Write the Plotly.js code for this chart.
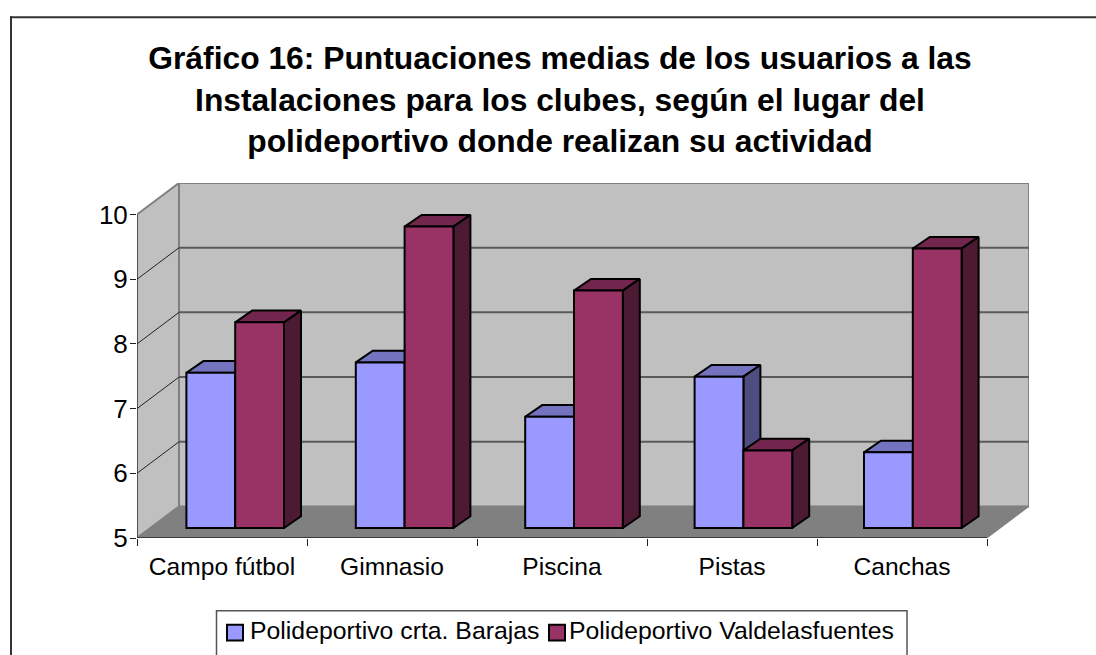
<!DOCTYPE html>
<html>
<head>
<meta charset="utf-8">
<script src="https://cdn.plot.ly/plotly-3.0.1.min.js"></script>
<style>html,body{margin:0;padding:0;background:#fff;overflow:hidden}#chart{width:1096px;height:655px}</style>
</head>
<body>
<div id="chart"></div>
<script>
const categories = ["Campo fútbol", "Gimnasio", "Piscina", "Pistas", "Canchas"];
const seriesNames = ["Polideportivo crta. Barajas", "Polideportivo Valdelasfuentes"];
const barajas = [7.4, 7.56, 6.72, 7.34, 6.17];
const valdelasfuentes = [8.18, 9.66, 8.67, 6.2, 9.32];
const yTicks = [5, 6, 7, 8, 9, 10];
const titleText = "Gráfico 16: Puntuaciones medias de los usuarios a las<br>Instalaciones para los clubes, según el lugar del<br>polideportivo donde realizan su actividad";

const colors = {
  front: ["#9999FF", "#993366"],
  top: ["#7373BF", "#73264D"],
  side: ["#4D4D80", "#4D1A33"]
};
const FONT = "Liberation Sans, Arial, sans-serif";

// Plot-area box in pixels
const L = 137, R = 1029, T = 183, B = 538.3;
const unitX = 170, unitY = 64.74;
// wall depth in axis units
const dX = 42 / unitX, dY = 31.6 / unitY;
// bar plane: step between groups and first group centre in pixels
const stepPx = 169.4, firstCentrePx = 235.2, barPx = 48.8;
const shiftY = 10 / unitY;
const barW = barPx / stepPx;
const barDX = 17 / unitX, barDY = 11.7 / unitY;
const n = categories.length, lo = yTicks[0], hi = yTicks[yTicks.length - 1];

const px = x => (x - L) / (R - L);
const py = y => (B - y) / (B - T);

function poly(x, y, fill, line, width) {
  return {type: "scatter", mode: "lines", x: x.concat(x[0]), y: y.concat(y[0]), fill: "toself",
    fillcolor: fill, line: {color: line, width: width}, showlegend: false, hoverinfo: "skip"};
}
function seg(x, y, color, width) {
  return {type: "scatter", mode: "lines", x, y, line: {color, width}, showlegend: false, hoverinfo: "skip"};
}

const traces = [];
// walls & floor
traces.push(poly([0, dX, dX, 0], [lo, lo + dY, hi + dY, hi], "#C0C0C0", "#808080", 2));
traces.push(poly([dX, n + dX, n + dX, dX], [lo + dY, lo + dY, hi + dY, hi + dY], "#C0C0C0", "#808080", 2));
traces.push(poly([0, n, n + dX, dX], [lo, lo, lo + dY, lo + dY], "#808080", "#808080", 1));
// gridlines
yTicks.slice(1, -1).forEach(v => {
  traces.push(seg([dX, n + dX], [v + dY, v + dY], "#5A5A5A", 2));
  traces.push(seg([0, dX], [v, v + dY], "#222222", 1));
});
// axis lines
traces.push(seg([0, 0], [lo, hi], "#222222", 1));
traces.push(seg([0, n], [lo, lo], "#222222", 1.5));

// top and side faces of each bar, on the wall axes
[barajas, valdelasfuentes].forEach((vals, s) => {
  vals.forEach((v, j) => {
    const x0 = (firstCentrePx + j * stepPx + (s - 1) * barPx - L) / unitX, x1 = x0 + barPx / unitX;
    const y1 = v + shiftY, y0 = lo + shiftY;
    traces.push(poly([x0, x1, x1 + barDX, x0 + barDX], [y1, y1, y1 + barDY, y1 + barDY], colors.top[s], "#000", 2));
    traces.push(poly([x1, x1 + barDX, x1 + barDX, x1], [y0, y0 + barDY, y1 + barDY, y1], colors.side[s], "#000", 2));
  });
});

// front faces on an overlaid pair of axes, shifted to the plane of the bars
[barajas, valdelasfuentes].forEach((vals, s) => {
  traces.push({type: "bar", name: seriesNames[s], x: categories, y: vals.map(v => v - lo), base: lo,
    xaxis: "x2", yaxis: "y2", marker: {color: colors.front[s], line: {color: "#000", width: 2}},
    showlegend: false, hovertemplate: "%{x}: %{customdata}<extra>" + seriesNames[s] + "</extra>", customdata: vals});
});

const xMaxWall = n + dX, yMaxWall = hi + dY;
const layout = {
  width: 1096, height: 655,
  margin: {l: L, r: 1096 - R, t: T, b: 655 - B, pad: 0, autoexpand: false},
  paper_bgcolor: "#fff", plot_bgcolor: "#fff",
  font: {family: FONT, color: "#000", size: 24},
  showlegend: false,
  barmode: "group", bargap: 1 - 2 * barW, bargroupgap: 0,
  title: {text: titleText, font: {family: FONT, size: 31.8, color: "#000", weight: "bold"},
    x: 560 / 1096, xanchor: "center", y: 0.894, yanchor: "top"},
  xaxis: {range: [0, xMaxWall], tickmode: "array", tickvals: categories.map((c, i) => i + 0.5), ticktext: categories,
    ticks: "", showgrid: false, zeroline: false, showline: false, tickfont: {size: 24.6, family: FONT},
    ticklabelstandoff: 11,
    minor: {tickmode: "array", tickvals: [0, 1, 2, 3, 4, 5], ticks: "outside", ticklen: 7, tickwidth: 1, tickcolor: "#222", showgrid: false}},
  yaxis: {range: [lo, yMaxWall], tickmode: "array", tickvals: yTicks, ticks: "outside", ticklen: 6, tickwidth: 1,
    tickcolor: "#222", showgrid: false, zeroline: false, showline: false, tickfont: {size: 26, family: FONT}, ticklabelstandoff: -3},
  xaxis2: {overlaying: "x", type: "category", categoryorder: "array", categoryarray: categories,
    range: [(L - firstCentrePx) / stepPx, (R - firstCentrePx) / stepPx], visible: false},
  yaxis2: {overlaying: "y", range: [lo - shiftY, lo + (B - 10 - T) / unitY], visible: false},
  shapes: [
    // outer frame (left and top edges only, as cropped in the source image)
    {type: "line", xref: "paper", yref: "paper", x0: px(11), x1: px(11), y0: py(16), y1: py(660), line: {color: "#333", width: 2}},
    {type: "line", xref: "paper", yref: "paper", x0: px(10), x1: px(1100), y0: py(17), y1: py(17), line: {color: "#333", width: 2}},
    // legend box
    {type: "rect", xref: "paper", yref: "paper", x0: px(216.5), x1: px(907), y0: py(611), y1: py(670), line: {color: "#555", width: 1.5}, fillcolor: "#fff"},
    {type: "rect", xref: "paper", yref: "paper", x0: px(227), x1: px(243), y0: py(625), y1: py(641), line: {color: "#000", width: 2}, fillcolor: colors.front[0]},
    {type: "rect", xref: "paper", yref: "paper", x0: px(549), x1: px(565), y0: py(625), y1: py(641), line: {color: "#000", width: 2}, fillcolor: colors.front[1]}
  ],
  annotations: [
    {xref: "paper", yref: "paper", x: px(248), y: py(631), xanchor: "left", yanchor: "middle", showarrow: false, text: seriesNames[0], font: {size: 24.8, family: FONT}},
    {xref: "paper", yref: "paper", x: px(567), y: py(631), xanchor: "left", yanchor: "middle", showarrow: false, text: seriesNames[1], font: {size: 24.8, family: FONT}}
  ]
};
Plotly.newPlot("chart", traces, layout, {displayModeBar: false, responsive: false});
</script>
</body>
</html>
